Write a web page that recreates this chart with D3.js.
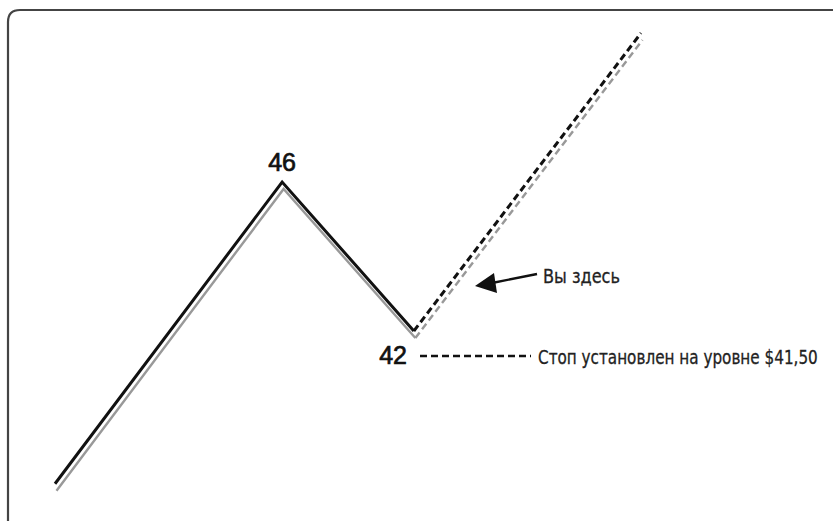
<!DOCTYPE html>
<html><head><meta charset="utf-8">
<script src="https://cdn.jsdelivr.net/npm/d3@7/dist/d3.min.js"></script>
<style>
html,body{margin:0;padding:0;background:#fff;}
svg{display:block;}
.cond{font-family:"Liberation Sans Narrow","DejaVu Sans Condensed","Roboto Condensed",sans-serif;}
</style></head>
<body>
<script>
// Data (price path, time steps)
const solidTimes = [0, 10, 15.8];
const solidPrices = [37.9, 46, 42];
const dashedTimes = [15.8, 25.8];
const dashedPrices = [42, 50.0];
const peakLabel = "46";
const troughLabel = "42";
const stopPrice = 41.5;
const stopText = "Стоп установлен на уровне $41,50";
const hereText = "Вы здесь";

const W = 833, H = 521;
const svg = d3.select("body").append("svg").attr("width", W).attr("height", H);

const x = d3.scaleLinear().domain([0, 25.8]).range([55, 641]);
const y = d3.scaleLinear().domain([42, 46]).range([331, 182]);

// frame
svg.append("path")
  .attr("d", `M8,${H+2} V22 Q8,10 20,10 H${W+2}`)
  .attr("fill", "none").attr("stroke", "#444").attr("stroke-width", 2.2);

const solid = solidTimes.map((t, i) => [t, solidPrices[i]]);
const dashed = dashedTimes.map((t, i) => [t, dashedPrices[i]]);
const line = d3.line().x(d => x(d[0])).y(d => y(d[1]));

// shadow lines (gray)
const sh = svg.append("g").attr("transform", "translate(1.5,7)");
sh.append("path").attr("d", line(solid)).attr("fill", "none")
  .attr("stroke", "#999").attr("stroke-width", 2.4);
sh.append("path").attr("d", line(dashed)).attr("fill", "none")
  .attr("stroke", "#999").attr("stroke-width", 2.4).attr("stroke-dasharray", "7,4");

// main lines (black)
svg.append("path").attr("d", line(solid)).attr("fill", "none")
  .attr("stroke", "#111").attr("stroke-width", 3).attr("stroke-linejoin", "miter");
svg.append("path").attr("d", line(dashed)).attr("fill", "none")
  .attr("stroke", "#111").attr("stroke-width", 3).attr("stroke-dasharray", "7,4");

// labels
svg.append("text").attr("x", x(solidTimes[1])).attr("y", y(46) - 11)
  .attr("text-anchor", "middle").attr("font-family", "Liberation Sans, Arial, sans-serif")
  .attr("font-size", 25).attr("fill", "#111").attr("stroke", "#111").attr("stroke-width", 0.7)
  .text(peakLabel);
svg.append("text").attr("x", 407).attr("y", 364)
  .attr("text-anchor", "end").attr("font-family", "Liberation Sans, Arial, sans-serif")
  .attr("font-size", 25).attr("fill", "#111").attr("stroke", "#111").attr("stroke-width", 0.7)
  .text(troughLabel);

function condText(tx, ty, width, str) {
  const g = svg.append("g");
  const t = g.append("text").attr("class", "cond").attr("x", 0).attr("y", 0)
    .attr("font-size", 20).attr("fill", "#222").attr("stroke", "#222").attr("stroke-width", 0.3)
    .text(str);
  const len = t.node().getComputedTextLength();
  g.attr("transform", `translate(${tx},${ty}) scale(${width / len},1)`);
}

// stop line
svg.append("line").attr("x1", 420).attr("x2", 531).attr("y1", 356).attr("y2", 356)
  .attr("stroke", "#111").attr("stroke-width", 2.6).attr("stroke-dasharray", "7,4");
condText(538, 364, 280, stopText);

// arrow
svg.append("line").attr("x1", 537).attr("y1", 274).attr("x2", 492).attr("y2", 283)
  .attr("stroke", "#111").attr("stroke-width", 2.4);
svg.append("path").attr("d", "M475,286 L494,273 L497,293 Z").attr("fill", "#111");
condText(543, 283, 77, hereText);
</script>
</body></html>
